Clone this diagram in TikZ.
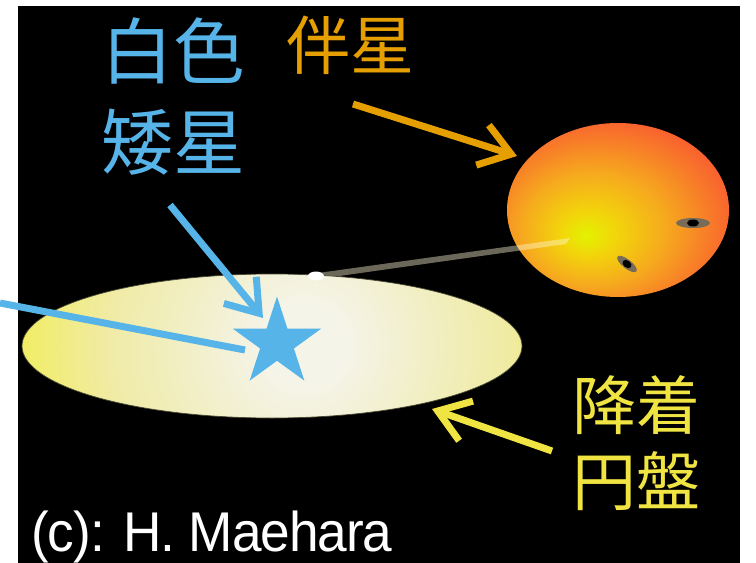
\documentclass[tikz,border=0pt]{standalone}
\usepackage{fontspec}
\setmainfont{Liberation Sans}
\newfontfamily\cjk{Noto Sans CJK JP}
\newfontfamily\creditfont[LetterSpace=-2]{Liberation Sans}
\usetikzlibrary{shapes.geometric,arrows.meta}

\definecolor{wdblue}{RGB}{86,180,233}
\definecolor{donororange}{RGB}{230,159,0}
\definecolor{diskyellow}{RGB}{240,228,66}
% accretion disk glow
\definecolor{diskcore}{RGB}{245,244,232}
\definecolor{diskpale}{RGB}{242,240,206}
\definecolor{diskmid}{RGB}{240,235,165}
\definecolor{diskedge}{RGB}{242,238,88}
% companion star surface
\definecolor{donA}{RGB}{226,242,0}
\definecolor{donB}{RGB}{242,214,10}
\definecolor{donC}{RGB}{246,170,30}
\definecolor{donD}{RGB}{248,118,42}
\definecolor{donE}{RGB}{250,62,56}

% radial shadings: the path's box spans [-25bp,25bp]
\pgfdeclareradialshading{diskglow}{\pgfpoint{0bp}{0bp}}{%
  color(0bp)=(diskcore); color(3.5bp)=(diskcore); color(8.5bp)=(diskpale);
  color(16.5bp)=(diskmid); color(25bp)=(diskedge); color(50bp)=(diskedge)}
\pgfdeclareradialshading{donorglow}{\pgfpoint{-7.5bp}{-7.5bp}}{%
  color(0bp)=(donA); color(6bp)=(donB); color(16bp)=(donC);
  color(26bp)=(donD); color(37bp)=(donE); color(60bp)=(donE)}

\begin{document}
\begin{tikzpicture}[x=1bp,y=-1bp,
  pointer/.style={line width=7bp, -{Straight Barb[length=30bp,width=42bp,line width=7bp]}},
  jlabel/.style={font=\cjk\fontsize{#1}{#1}\selectfont, anchor=base, inner sep=0},
  spothalo/.style={fill={rgb,255:red,120;green,108;blue,88}},
  stream/.style={fill={rgb,255:red,255;green,250;blue,215}, fill opacity=0.42}]
\useasboundingbox (0,0) rectangle (756,563);
\fill[black] (18,6) rectangle (740,563);

% companion star
\node[ellipse, minimum width=222bp, minimum height=174bp, inner sep=0,
      shade, shading=donorglow] (donor) at (618,210) {};
\fill[spothalo] (693,223) ellipse [x radius=17bp, y radius=5bp];
\fill[black] (693,223) ellipse [x radius=6bp, y radius=3.5bp];
\begin{scope}[shift={(627,264)}, rotate=-38]
  \fill[spothalo] (0,0) ellipse [x radius=12bp, y radius=4.5bp];
  \fill[black] (0,0) ellipse [x radius=5bp, y radius=3.5bp];
\end{scope}

% mass-transfer stream
\fill[stream] (318,273) -- (570,238) -- (566,244) -- (318,279) -- cycle;

% accretion disk
\begin{scope}
  \clip (272,346) ellipse [x radius=250bp, y radius=72bp];
  \shade[shading=diskglow] (305,345) circle [radius=300bp];
\end{scope}
\node[ellipse, minimum width=500bp, minimum height=144bp, inner sep=0,
      draw={rgb,255:red,70;green,70;blue,50}, line width=0.7bp] (disk) at (272,346) {};
\node[ellipse, fill=white, minimum width=16bp, minimum height=9bp, inner sep=0] (spot) at (316,276) {};

% white dwarf
\coordinate (farleft) at (0,303);
\coordinate (nearwd) at (245,350);
\draw[wdblue, line width=7bp] (farleft) -- (nearwd);
\node[star, star points=5, star point ratio=2.618, minimum size=93bp, inner sep=0,
      fill=wdblue] (wd) at (277,343) {};

% labels and pointers
\node[jlabel=72bp, text=wdblue] (wdA) at (173,79) {白色};
\node[jlabel=72bp, text=wdblue] (wdB) at (173,170) {矮星};
\node[jlabel=64bp, text=donororange] (donorlbl) at (350,70) {伴星};
\node[jlabel=64bp, text=diskyellow] (diskA) at (636,429) {降着};
\node[jlabel=64bp, text=diskyellow] (diskB) at (636,505) {円盤};
\node[font=\creditfont\fontsize{56bp}{56bp}\selectfont, text=white, anchor=base west, inner sep=0]
  (credit) at (31,551) {\scalebox{0.95}[1]{(c): H. Maehara}};

\coordinate (wdtail) at (170,205);
\coordinate (wdtip) at (263,318);
\coordinate (dontail) at (353,104);
\coordinate (dontip) at (517,156);
\coordinate (disktail) at (552,451);
\coordinate (disktip) at (432,409);
\draw[pointer, wdblue] (wdtail) -- (wdtip);
\draw[pointer, donororange] (dontail) -- (dontip);
\draw[pointer, diskyellow] (disktail) -- (disktip);
\end{tikzpicture}
\end{document}
